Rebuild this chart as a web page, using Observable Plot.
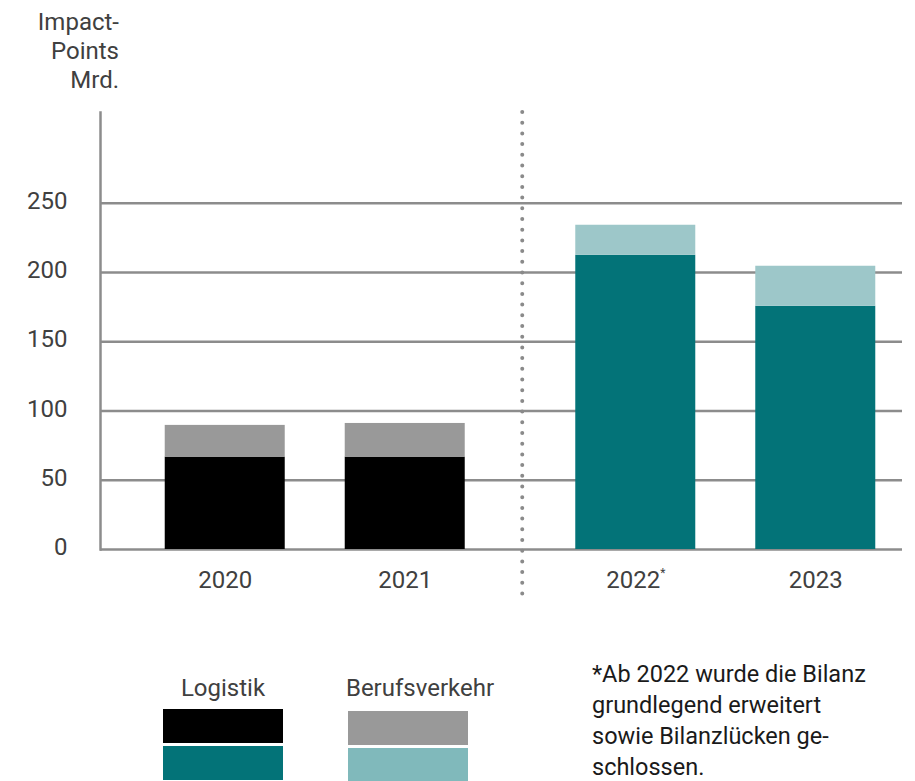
<!DOCTYPE html>
<html>
<head>
<meta charset="utf-8">
<script src="https://cdn.jsdelivr.net/npm/d3@7"></script>
<script src="https://cdn.jsdelivr.net/npm/@observablehq/plot@0.6"></script>
<style>
  html, body { margin: 0; padding: 0; background: #fff; }
  #wrap { position: relative; width: 915px; height: 781px; overflow: hidden; font-family: Roboto, sans-serif; }
  #chart { position: absolute; left: 0; top: 0; }
  #ytitle { position: absolute; left: 0; top: 8px; width: 119px; text-align: right; font-size: 24px; line-height: 29px; color: #404040; }
  .leg { position: absolute; top: 674px; width: 120px; }
  .leg .lab { font-size: 24px; line-height: 29px; color: #404040; text-align: center; white-space: nowrap; margin-left: -40px; margin-right: -40px; }
  .leg .sw { width: 120px; height: 34px; }
  #note { position: absolute; left: 592px; top: 659px; font-size: 23.5px; line-height: 31px; color: #1a1a1a; white-space: nowrap; }
</style>
</head>
<body>
<div id="wrap">
  <div id="chart"></div>
  <div id="ytitle"></div>
  <div id="legend"></div>
  <div id="note"></div>
</div>
<script>
// ---- data ----
const years = ["2020", "2021", "2022", "2023"];
const basis = ["bis 2021", "bis 2021", "ab 2022", "ab 2022"];
const series = ["Logistik", "Berufsverkehr"];
const logistik = [66.7, 66.7, 212.4, 175.6];
const berufsverkehr = [22.9, 24.3, 21.7, 28.9];
const yTicks = [0, 50, 100, 150, 200, 250];
const footnotedYear = "2022";
const noteLines = ["*Ab 2022 wurde die Bilanz", "grundlegend erweitert", "sowie Bilanzlücken ge-", "schlossen."];
const yTitleText = ["Impact-", "Points", "Mrd."];

// ---- styling ----
const keys = ["Logistik bis 2021", "Berufsverkehr bis 2021", "Logistik ab 2022", "Berufsverkehr ab 2022"];
const palette = ["#000000", "#999999", "#037378", "#9dc7c9"];
const legendPalette = {
  "Logistik": ["#000000", "#037378"],
  "Berufsverkehr": ["#999999", "#80b9bb"]
};

const rows = series.flatMap(s => years.map((y, i) => ({
  year: y,
  basis: basis[i],
  series: s,
  key: s + " " + basis[i],
  value: (s === "Logistik" ? logistik : berufsverkehr)[i]
})));

const W = 915, H = 620, mL = 100, mR = 13, mT = 112, mB = 71;
const padIn = 0.335, padOut = 0.389, align = 0.635;
const step = (W - mL - mR) / (years.length - padIn + 2 * padOut);
// extra separation between the two accounting periods (half on each side of the divider)
const periodShift = 0.14 * step;
const periods = Array.from(new Set(basis));
const shiftOf = p => (periods.indexOf(p) === 0 ? -periodShift : periodShift);
const grid = "#8c8c8c";

const barMarks = periods.map(p =>
  Plot.barY(rows.filter(r => r.basis === p), { x: "year", y: "value", fill: "key", dx: shiftOf(p) })
);
const axisMarks = periods.map(p =>
  Plot.axisX(years.filter((y, i) => basis[i] === p), {
    tickSize: 0, tickPadding: 21, fontSize: 24, label: null, dx: shiftOf(p),
    tickFormat: d => d === footnotedYear ? d + "*" : d
  })
);

const plot = Plot.plot({
  width: W, height: H,
  marginLeft: mL, marginRight: mR, marginTop: mT, marginBottom: mB,
  style: { fontFamily: "Roboto, sans-serif", fontSize: "24px", color: "#404040", background: "transparent", overflow: "visible" },
  x: { type: "band", domain: years, paddingInner: padIn, paddingOuter: padOut, align: align, label: null },
  y: { domain: [0, 315.5], label: null },
  color: { domain: keys, range: palette },
  marks: [
    Plot.ruleY(yTicks, { stroke: grid, strokeWidth: 2.5 }),
    Plot.frame({ anchor: "left", stroke: grid, strokeWidth: 2.5 }),
    ...barMarks,
    Plot.ruleX([footnotedYear], { dx: -step / 2 + 2, insetBottom: -47, stroke: "#8a8a8a", strokeWidth: 4, strokeDasharray: "0 10.7", strokeLinecap: "round" }),
    Plot.axisY(yTicks, { tickSize: 0, tickPadding: 33, fontSize: 24, dy: -2, label: null }),
    ...axisMarks
  ]
});
document.getElementById("chart").appendChild(plot);

// superscript asterisk
d3.select(plot).selectAll("text").each(function () {
  if (this.textContent === footnotedYear + "*") {
    const sel = d3.select(this);
    sel.text(footnotedYear);
    sel.append("tspan").attr("font-size", 12).attr("dy", "-10.5").text("*");
  }
});

// y title
document.getElementById("ytitle").innerHTML = yTitleText.join("<br>");

// legend
const legendLeft = { "Logistik": 163, "Berufsverkehr": 348 };
const legendTop = { "Logistik": 0, "Berufsverkehr": 2 };
const legendLabelShift = { "Logistik": 0, "Berufsverkehr": 12 };
const leg = document.getElementById("legend");
series.forEach(s => {
  const g = document.createElement("div");
  g.className = "leg";
  g.style.left = legendLeft[s] + "px";
  const lab = document.createElement("div");
  lab.className = "lab";
  lab.textContent = s;
  lab.style.marginBottom = (6 + legendTop[s]) + "px";
  lab.style.transform = "translateX(" + legendLabelShift[s] + "px)";
  g.appendChild(lab);
  legendPalette[s].forEach((c, j) => {
    const sw = document.createElement("div");
    sw.className = "sw";
    sw.style.background = c;
    sw.style.marginTop = j ? "3px" : "0";
    g.appendChild(sw);
  });
  leg.appendChild(g);
});

// footnote
document.getElementById("note").innerHTML = noteLines.join("<br>");
</script>
</body>
</html>
